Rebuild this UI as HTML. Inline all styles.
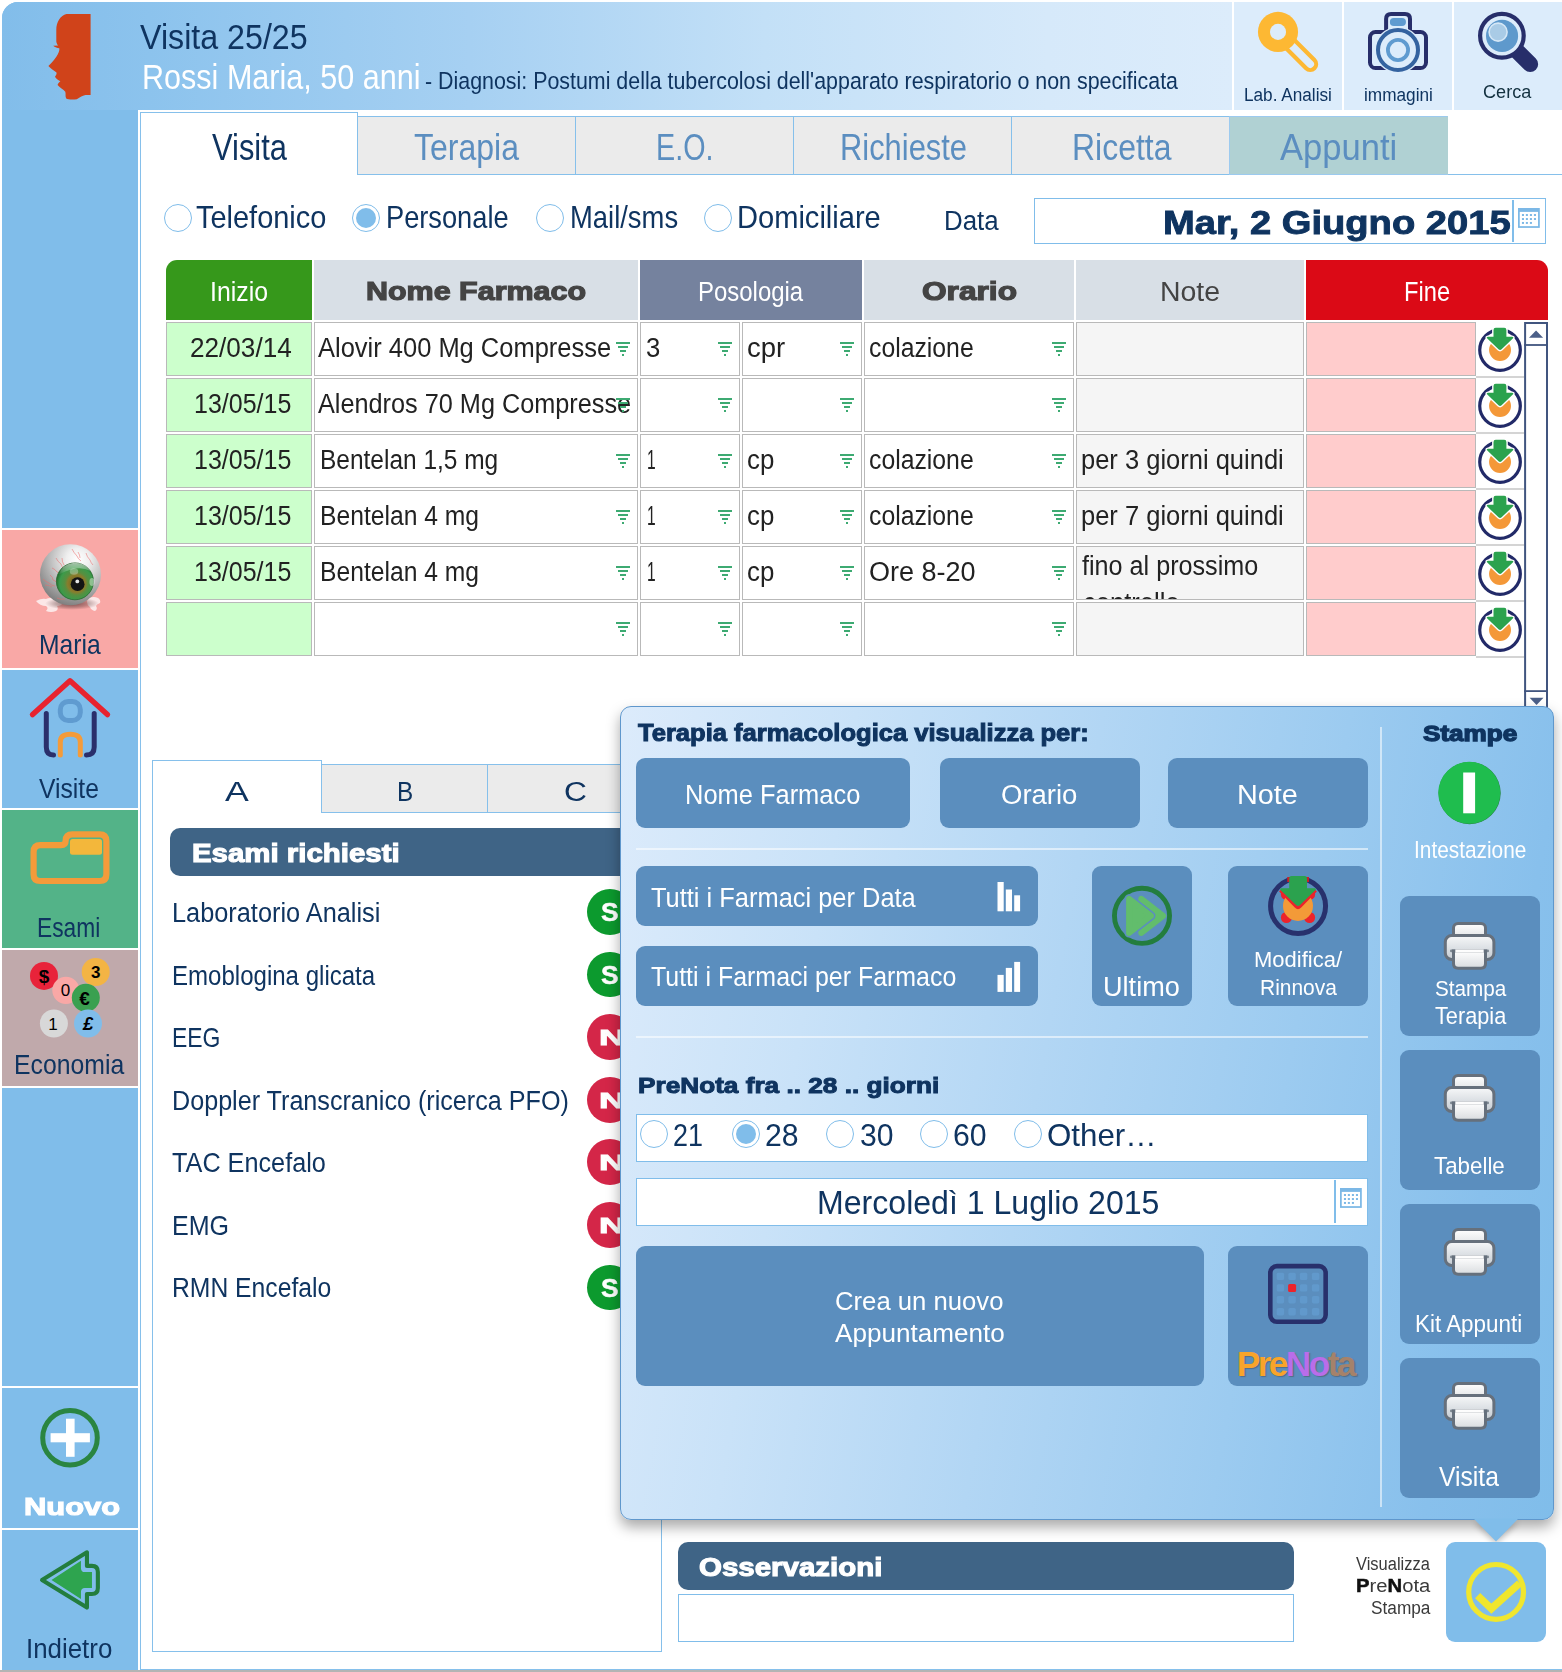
<!DOCTYPE html>
<html lang="it"><head><meta charset="utf-8"><title>Visita 25/25 - Rossi Maria</title>
<style>
html,body{margin:0;padding:0}
body{width:1562px;height:1672px;position:relative;overflow:hidden;background:#fff;font-family:"Liberation Sans",sans-serif}
.a{position:absolute;box-sizing:border-box}
.t{position:absolute;white-space:nowrap;line-height:1;transform-origin:0 0;font-family:"Liberation Sans",sans-serif}
svg{position:absolute;overflow:visible}
.cell{position:absolute;box-sizing:border-box;border:1px solid #b9b9b9;height:54px;background:#fff}
.ci{background:#ccffcc}
.cn{background:#f5f5f5}
.cf{background:#ffcccc}
.btn{position:absolute;box-sizing:border-box;background:#5b8ebe;border-radius:9px}
.tab{position:absolute;box-sizing:border-box;background:#ebebeb;border:1px solid #86c0eb}
.rad{position:absolute;box-sizing:border-box;width:28px;height:28px;border-radius:50%;border:1px solid #80bdea;background:#fff}
.rad.on::after{content:"";position:absolute;left:3px;top:3px;width:20px;height:20px;border-radius:50%;background:#80bdea}
.sep{position:absolute;background:#fff;left:2px;width:136px;height:2px}
.fld{position:absolute;box-sizing:border-box;background:#fff;border:1px solid #80bdea}

</style></head>
<body>
<div class="a" style="left:2px;top:2px;width:136px;height:1668px;background:#80bdea;border-top-left-radius:16px"></div>
<div class="a" style="left:2px;top:2px;width:1230px;height:108px;border-top-left-radius:16px;background:linear-gradient(90deg,#82bdea 0%,#8cc3ed 12%,#a6d0f2 38%,#c3e0f7 62%,#d6e9fa 85%,#dcecfb 100%)"></div>
<div class="a" style="left:1234px;top:2px;width:108px;height:108px;background:#dcecfb"></div>
<div class="a" style="left:1344px;top:2px;width:108px;height:108px;background:#dcecfb"></div>
<div class="a" style="left:1454px;top:2px;width:108px;height:108px;background:#dcecfb"></div>
<svg style="left:0;top:0" width="140" height="110" viewBox="0 0 140 110">
<path d="M90.6 14.1 L66.5 14.1 C60.5 15.5 56.3 22 56.3 30 L56.3 41.5 C56.5 43.5 57.5 44.8 58.2 45.6 L53.2 45.8 C54.8 47.3 57.5 48 59.3 48.3 C59.8 50.5 58.5 53.5 56.5 56.5 C54 60.3 51 63.5 48.4 65.9 C50.5 68.5 54 70.5 56.5 72.5 C57 74 55.8 75.5 55 76.8 C56 79.2 58.8 80.3 60.4 81.2 C59.2 82.3 57.8 83.6 57.6 85.1 C59.5 87.6 63.5 89.6 65.3 91.8 C66 94 65 96.5 66.2 98.4 C68 99.8 73.5 99.6 76.8 99.2 C79.5 97.8 82 95.6 85.5 95 L90.6 95 Z" fill="#d0431a"/>
</svg>
<span class="t" id="t0" style="left:140.17px;top:20.00px;font-size:34.74px;color:#0f3460;transform:scaleX(0.9269);">Visita 25/25</span>
<span class="t" id="t1" style="left:142.37px;top:59.00px;font-size:35.18px;color:#fff;transform:scaleX(0.8686);">Rossi Maria, 50 anni</span>
<span class="t" id="t2" style="left:425.32px;top:70.00px;font-size:23.55px;color:#0f3460;transform:scaleX(0.9082);">- Diagnosi: Postumi della tubercolosi dell'apparato respiratorio o non specificata</span>
<svg style="left:1232px;top:0" width="330" height="112" viewBox="1232 0 330 112">
<!-- key -->
<line x1="1278" y1="31.9" x2="1310.25" y2="64.15" stroke="#fdb833" stroke-width="15.9" stroke-linecap="round"/>
<line x1="1278" y1="31.9" x2="1310.25" y2="64.15" stroke="#dcecfb" stroke-width="7.6" stroke-linecap="round"/>
<circle cx="1278" cy="31.9" r="20.05" fill="#fdb833"/><circle cx="1278" cy="31.9" r="8.06" fill="#dcecfb"/>
<!-- camera -->
<rect x="1370" y="31.9" width="56" height="36.1" rx="5.6" fill="none" stroke="#272e6a" stroke-width="4"/>
<path d="M1386.1 33 L1386.1 18.9 Q1386.1 13.9 1391.1 13.9 L1405 13.9 Q1410 13.9 1410 18.9 L1410 33" fill="none" stroke="#272e6a" stroke-width="4"/>
<rect x="1389.85" y="18.1" width="16.1" height="7.9" rx="3.95" fill="#5f9bd0"/>
<circle cx="1398" cy="50" r="23.4" fill="#dcecfb"/>
<circle cx="1398" cy="50" r="20" fill="none" stroke="#3463a0" stroke-width="4"/>
<circle cx="1398" cy="50" r="10.1" fill="none" stroke="#5f9bd0" stroke-width="3.8"/>
<!-- magnifier -->
<line x1="1510" y1="44" x2="1530.2" y2="64.15" stroke="#272e6a" stroke-width="15.9" stroke-linecap="round"/>
<circle cx="1501.9" cy="35.75" r="21.8" fill="#dcecfb" stroke="#272e6a" stroke-width="4.2"/>
<circle cx="1502.05" cy="35.9" r="16.05" fill="#5e99cc"/>
<circle cx="1498.1" cy="32.1" r="9" fill="#a9cbe6" stroke="#d5e7f6" stroke-width="1.6"/>
</svg>
<span class="t" id="t3" style="left:1244.07px;top:85.00px;font-size:19.19px;color:#0f3460;transform:scaleX(0.8953);">Lab. Analisi</span>
<span class="t" id="t4" style="left:1364.47px;top:86.00px;font-size:18.75px;color:#0f3460;transform:scaleX(0.9178);">immagini</span>
<span class="t" id="t5" style="left:1482.71px;top:83.00px;font-size:18.75px;color:#12303f;transform:scaleX(0.9651);">Cerca</span>
<div class="a" style="left:2px;top:530px;width:136px;height:138px;background:#f9a8a6"></div>
<div class="a" style="left:2px;top:810px;width:136px;height:138px;background:#53b388"></div>
<div class="a" style="left:2px;top:950px;width:136px;height:136px;background:#c0a9ab"></div>
<div class="sep" style="top:528px"></div>
<div class="sep" style="top:668px"></div>
<div class="sep" style="top:808px"></div>
<div class="sep" style="top:948px"></div>
<div class="sep" style="top:1085.7px"></div>
<div class="sep" style="top:1386px"></div>
<div class="sep" style="top:1527.7px"></div>
<svg style="left:0;top:530px" width="140" height="140" viewBox="0 530 140 140">
<defs>
<radialGradient id="eb" cx="0.62" cy="0.27" r="0.85" fx="0.62" fy="0.25"><stop offset="0" stop-color="#ffffff"/><stop offset="0.22" stop-color="#efefef"/><stop offset="0.48" stop-color="#c6c6c6"/><stop offset="0.72" stop-color="#9c9c9c"/><stop offset="0.92" stop-color="#7a7a7a"/><stop offset="1" stop-color="#666"/></radialGradient>
<radialGradient id="ir" cx="0.54" cy="0.56" r="0.56"><stop offset="0" stop-color="#6b5a18"/><stop offset="0.42" stop-color="#8a7c2c"/><stop offset="0.56" stop-color="#578f40"/><stop offset="0.8" stop-color="#3c9a4a"/><stop offset="1" stop-color="#1f6a2b"/></radialGradient>
<linearGradient id="gl" x1="0" y1="0" x2="0" y2="1"><stop offset="0" stop-color="#ffffff" stop-opacity="0.6"/><stop offset="1" stop-color="#ffffff" stop-opacity="0"/></linearGradient>
<radialGradient id="sh" cx="0.5" cy="0.5" r="0.5"><stop offset="0" stop-color="#402828" stop-opacity="0.7"/><stop offset="0.6" stop-color="#503030" stop-opacity="0.35"/><stop offset="1" stop-color="#5a3a3a" stop-opacity="0"/></radialGradient>
<filter id="bl1" x="-20%" y="-20%" width="140%" height="140%"><feGaussianBlur stdDeviation="0.7"/></filter>
</defs>
<g filter="url(#bl1)" fill="#fdf3f3" opacity="0.85">
<path d="M36 601 q6 -3 10 -2 q4 -2 10 0 q5 1 7 4 q-2 3 -6 3 q2 3 -1 5 q-5 2 -10 0 q3 -3 0 -5 q-6 0 -10 -5z"/>
<path d="M89 598 q5 -2 9 0 q3 2 2 5 q-3 1 -4 3 q2 3 -1 5 q-4 -1 -5 -4 q-3 -2 -3 -5 q0 -3 2 -4z"/>
</g>
<ellipse cx="72" cy="603.5" rx="27" ry="6.5" fill="url(#sh)"/>
<circle cx="70.46" cy="574.7" r="30.5" fill="url(#eb)"/>
<g fill="none" stroke="#ea6a6a" stroke-width="0.6" opacity="0.9">
<path d="M56 558 q2 4 5 6 q1 3 3 5 M62 558 q0 4 2 7 M52 568 q3 1 5 4 q3 1 5 3 M50 575 q3 2 3 5 q3 2 6 2 M43 579 q3 3 6 4 q3 3 6 3 M45 585 q4 0 7 2 M72 549 q2 4 5 7 q1 3 4 5 M78 552 q2 3 2 6 M86 553 q1 4 4 7 M90 560 q1 3 3 5 M57 598 q4 2 8 1"/>
</g>
<ellipse cx="74.94" cy="581.35" rx="18.55" ry="18.45" fill="url(#ir)" stroke="#2a6a30" stroke-width="0.8"/>
<path d="M58.5 575 a18 18 0 0 1 32 -4 q-8 -4 -17 -2 q-9 2 -15 6z" fill="url(#gl)"/>
<circle cx="77.6" cy="584.2" r="6.9" fill="#141414"/>
<circle cx="77.3" cy="581.4" r="1.9" fill="#e6e6e6"/>
<ellipse cx="74" cy="571.5" rx="4.2" ry="3.2" fill="#fff" opacity="0.3"/>
<ellipse cx="92" cy="582" rx="2.6" ry="4" fill="#fff" opacity="0.4"/>
</svg>
<span class="t" id="t6" style="left:39.42px;top:631.00px;font-size:27.33px;color:#0f3460;transform:scaleX(0.9022);">Maria</span>
<svg style="left:0;top:670px" width="140" height="140" viewBox="0 670 140 140" fill="none" stroke-linecap="round" stroke-linejoin="round">
<path d="M46.3 713.5 L46.3 747 Q46.3 755 53.5 755" stroke="#2a2f6b" stroke-width="5"/>
<path d="M94.2 713.5 L94.2 747 Q94.2 755 86.5 755" stroke="#2a2f6b" stroke-width="5"/>
<rect x="60.3" y="701.5" width="20" height="19" rx="8" stroke="#5f9bd0" stroke-width="5"/>
<path d="M60.3 755 L60.3 742 Q60.3 734.3 70.3 734.3 Q80.3 734.3 80.3 742 L80.3 755" stroke="#f49b3a" stroke-width="5"/>
<path d="M32.6 714.6 L70 680.8 L107.4 714.6" stroke="#e8232f" stroke-width="5.4"/>
</svg>
<span class="t" id="t7" style="left:39.42px;top:775.00px;font-size:27.33px;color:#0f3460;transform:scaleX(0.9022);">Visite</span>
<svg style="left:0;top:810px" width="140" height="140" viewBox="0 810 140 140" fill="none">
<path d="M33.6 852 Q33.6 845.2 40.4 845.2 L61 845.2 Q65.6 845.2 65.6 841 Q65.6 834.4 72.4 834.4 L99.6 834.4 Q106.4 834.4 106.4 841.2 L106.4 874.2 Q106.4 881 99.6 881 L40.4 881 Q33.6 881 33.6 874.2 Z" stroke="#f49b3a" stroke-width="6.2" stroke-linejoin="round"/>
<rect x="70" y="839.1" width="32" height="15.6" rx="2.5" fill="#f3b73b"/>
</svg>
<span class="t" id="t8" style="left:36.83px;top:914.00px;font-size:27.33px;color:#0f3460;transform:scaleX(0.8327);">Esami</span>
<svg style="left:0;top:950px" width="140" height="136" viewBox="0 950 140 136" font-family="Liberation Sans, sans-serif" font-weight="bold" text-anchor="middle">
<circle cx="44" cy="975.9" r="14" fill="#e8233a"/>
<circle cx="95.7" cy="972" r="14" fill="#f3b444"/>
<circle cx="65.9" cy="990.3" r="13.6" fill="#f9a8a6"/>
<circle cx="85.8" cy="997.8" r="14" fill="#3aa050"/>
<circle cx="53.9" cy="1023.5" r="14" fill="#d8d8d8"/>
<circle cx="88" cy="1023.5" r="14" fill="#80bdea"/>
<text x="44" y="982.5" font-size="19" fill="#000">$</text>
<text x="95.7" y="978" font-size="17" fill="#000">3</text>
<text x="65.5" y="996.3" font-size="17" fill="#000" font-weight="normal">0</text>
<text x="84.5" y="1004.5" font-size="19" fill="#000">&#8364;</text>
<text x="53" y="1029.5" font-size="17" fill="#000" font-weight="normal">1</text>
<text x="88" y="1030" font-size="18" fill="#000" font-style="italic">&#163;</text>
</svg>
<span class="t" id="t9" style="left:14.31px;top:1051.00px;font-size:27.33px;color:#0f3460;transform:scaleX(0.9065);">Economia</span>
<svg style="left:0;top:1388px" width="140" height="140" viewBox="0 1388 140 140">
<circle cx="70" cy="1437.7" r="27.3" fill="none" stroke="#2a8541" stroke-width="5"/>
<rect x="50.6" y="1433.2" width="39.3" height="9.1" fill="#fff"/>
<rect x="66" y="1418.7" width="8.6" height="38.1" fill="#fff"/>
</svg>
<span class="t" id="t10" style="left:23.50px;top:1495.00px;font-size:24.56px;color:#fff;font-weight:bold;-webkit-text-stroke:1.10px #fff;transform:scaleX(1.2584);">Nuovo</span>
<svg style="left:0;top:1530px" width="140" height="140" viewBox="0 1530 140 140" stroke-linejoin="round">
<path d="M42.04 1579.95 L86.95 1552.3 L86.95 1565.9 L91.9 1565.9 Q97.86 1565.9 97.86 1571.9 L97.86 1588 Q97.86 1594 91.9 1594 L86.95 1594 L86.95 1607.6 Z" fill="none" stroke="#237d3e" stroke-width="4.1"/>
<path d="M51.5 1579.95 L80.96 1560.7 L80.96 1568.4 Q81.2 1572 84.8 1572 L91.97 1572 L91.97 1587.9 L84.8 1587.9 Q81.2 1587.9 80.96 1591.5 L80.96 1598.9 Z" fill="#2ea44f"/>
</svg>
<span class="t" id="t11" style="left:26.05px;top:1636.00px;font-size:26.74px;color:#0f3460;transform:scaleX(0.9679);">Indietro</span>
<div class="a" style="left:140px;top:112px;width:1px;height:1558px;background:#86c0eb"></div>
<div class="a" style="left:140px;top:1669px;width:1422px;height:1px;background:#86c0eb"></div>
<div class="a" style="left:0;top:1670px;width:1562px;height:2px;background:#b4b4b4"></div>
<div class="a" style="left:140px;top:112px;width:218px;height:1px;background:#86c0eb"></div>
<div class="a" style="left:357px;top:112px;width:1px;height:62px;background:#86c0eb"></div>
<div class="a" style="left:358px;top:174px;width:1204px;height:1px;background:#86c0eb"></div>
<div class="tab" style="left:357px;top:116px;width:219px;height:59px"></div>
<div class="tab" style="left:575px;top:116px;width:219px;height:59px"></div>
<div class="tab" style="left:793px;top:116px;width:219px;height:59px"></div>
<div class="tab" style="left:1011px;top:116px;width:219px;height:59px"></div>
<div class="tab" style="left:1229px;top:116px;width:219px;height:59px;background:#b0d1d3;border-color:#9ccaef #b0d1d3 #9ccaef #9ccaef"></div>
<span class="t" id="t12" style="left:211.75px;top:130.00px;font-size:36.34px;color:#0f3460;transform:scaleX(0.8494);">Visita</span>
<span class="t" id="t13" style="left:413.98px;top:130.00px;font-size:36.34px;color:#5b8ec0;transform:scaleX(0.8807);">Terapia</span>
<span class="t" id="t14" style="left:656.28px;top:130.00px;font-size:36.34px;color:#5b8ec0;transform:scaleX(0.7903);">E.O.</span>
<span class="t" id="t15" style="left:839.75px;top:130.00px;font-size:36.34px;color:#5b8ec0;transform:scaleX(0.8500);">Richieste</span>
<span class="t" id="t16" style="left:1071.58px;top:130.00px;font-size:36.34px;color:#5b8ec0;transform:scaleX(0.8793);">Ricetta</span>
<span class="t" id="t17" style="left:1279.83px;top:130.00px;font-size:36.34px;color:#5b8ec0;transform:scaleX(0.9516);">Appunti</span>
<div class="rad" style="left:164.0px;top:204px"></div>
<div class="rad on" style="left:351.7px;top:204px"></div>
<div class="rad" style="left:535.8px;top:204px"></div>
<div class="rad" style="left:703.9px;top:204px"></div>
<span class="t" id="t18" style="left:196.16px;top:202.00px;font-size:31.69px;color:#0f3460;transform:scaleX(0.9137);">Telefonico</span>
<span class="t" id="t19" style="left:385.57px;top:202.00px;font-size:31.69px;color:#0f3460;transform:scaleX(0.8590);">Personale</span>
<span class="t" id="t20" style="left:569.56px;top:202.00px;font-size:31.69px;color:#0f3460;transform:scaleX(0.8647);">Mail/sms</span>
<span class="t" id="t21" style="left:737.46px;top:202.00px;font-size:31.69px;color:#0f3460;transform:scaleX(0.9175);">Domiciliare</span>
<span class="t" id="t22" style="left:943.85px;top:207.00px;font-size:27.62px;color:#0f3460;transform:scaleX(0.9361);">Data</span>
<div class="fld" style="left:1034px;top:198px;width:512px;height:46px"></div>
<span class="t" id="t23" style="left:1163.26px;top:206.00px;font-size:33.58px;color:#0f3460;font-weight:bold;-webkit-text-stroke:0.90px #0f3460;transform:scaleX(1.1360);">Mar, 2 Giugno 2015</span>
<div class="a" style="left:1512px;top:200px;width:2px;height:42px;background:#80bdea"></div>
<svg style="left:1518.1px;top:208px" width="21.8" height="19.9" viewBox="0 0 21.8 19.9">
<rect x="0" y="0" width="21.8" height="19.9" fill="#7cb8e6"/>
<rect x="1.75" y="3.9" width="18.3" height="14.25" fill="#fff"/>
<g fill="#7cb8e6"><rect x="3.94" y="6.04" width="2.05" height="1.95"/><rect x="7.86" y="6.04" width="2.05" height="1.95"/><rect x="11.9" y="6.04" width="2.05" height="1.95"/><rect x="15.93" y="6.04" width="2.05" height="1.95"/>
<rect x="3.94" y="10.05" width="2.05" height="1.95"/><rect x="7.86" y="10.05" width="2.05" height="1.95"/><rect x="11.9" y="10.05" width="2.05" height="1.95"/><rect x="15.93" y="10.05" width="2.05" height="1.95"/>
<rect x="3.94" y="13.97" width="2.05" height="1.95"/><rect x="7.86" y="13.97" width="2.05" height="1.95"/><rect x="11.9" y="13.97" width="2.05" height="1.95"/></g>
</svg>
<div class="a" style="left:166px;top:260px;width:146px;height:60px;background:#36981b;border-top-left-radius:11px"></div>
<div class="a" style="left:314px;top:260px;width:324px;height:60px;background:#d8dfe6;"></div>
<div class="a" style="left:640px;top:260px;width:222px;height:60px;background:#75829e;"></div>
<div class="a" style="left:864px;top:260px;width:210px;height:60px;background:#d8dfe6;"></div>
<div class="a" style="left:1076px;top:260px;width:228px;height:60px;background:#d8dfe6;"></div>
<div class="a" style="left:1306px;top:260px;width:242px;height:60px;background:#db0a16;border-top-right-radius:11px"></div>
<span class="t" id="t24" style="left:209.51px;top:277.00px;font-size:28.34px;color:#fff;transform:scaleX(0.8766);">Inizio</span>
<span class="t" id="t25" style="left:365.97px;top:279.00px;font-size:25.29px;color:#444;font-weight:bold;-webkit-text-stroke:1.20px #444;transform:scaleX(1.2048);">Nome Farmaco</span>
<span class="t" id="t26" style="left:698.36px;top:277.00px;font-size:28.34px;color:#fff;transform:scaleX(0.8453);">Posologia</span>
<span class="t" id="t27" style="left:921.60px;top:279.00px;font-size:25.44px;color:#444;font-weight:bold;-webkit-text-stroke:1.20px #444;transform:scaleX(1.2443);">Orario</span>
<span class="t" id="t28" style="left:1159.89px;top:278.00px;font-size:27.62px;color:#444;transform:scaleX(1.0306);">Note</span>
<span class="t" id="t29" style="left:1404.08px;top:277.00px;font-size:28.34px;color:#fff;transform:scaleX(0.8355);">Fine</span>
<div class="cell ci" style="left:166px;top:322px;width:146px"></div>
<div class="cell" style="left:314px;top:322px;width:324px"></div>
<div class="cell" style="left:640px;top:322px;width:100px"></div>
<div class="cell" style="left:742px;top:322px;width:120px"></div>
<div class="cell" style="left:864px;top:322px;width:210px"></div>
<div class="cell cn" style="left:1076px;top:322px;width:228px"></div>
<div class="cell cf" style="left:1306px;top:322px;width:170px"></div>
<div class="a" style="left:1476px;top:376px;width:48px;height:2px;background:#d4d4d4"></div>
<span class="t" id="t30" style="left:189.63px;top:334.00px;font-size:27.18px;color:#222;transform:scaleX(0.9618);">22/03/14</span>
<span class="t" id="t31" style="left:318.27px;top:334.00px;font-size:27.18px;color:#222;transform:scaleX(0.9378);">Alovir 400 Mg Compresse</span>
<span class="t" id="t32" style="left:645.86px;top:334.00px;font-size:27.18px;color:#222;transform:scaleX(0.9441);">3</span>
<span class="t" id="t33" style="left:746.85px;top:334.00px;font-size:27.18px;color:#222;transform:scaleX(1.0119);">cpr</span>
<span class="t" id="t34" style="left:868.71px;top:334.00px;font-size:27.18px;color:#222;transform:scaleX(0.9117);">colazione</span>
<svg style="left:616px;top:342px" width="14" height="14" viewBox="0 0 14 14"><g fill="#3daa72"><rect x="0" y="0" width="14" height="2"/><rect x="2" y="4" width="10" height="2"/><rect x="4" y="8" width="6" height="2"/><rect x="6" y="12" width="2" height="2"/></g></svg>
<svg style="left:718px;top:342px" width="14" height="14" viewBox="0 0 14 14"><g fill="#3daa72"><rect x="0" y="0" width="14" height="2"/><rect x="2" y="4" width="10" height="2"/><rect x="4" y="8" width="6" height="2"/><rect x="6" y="12" width="2" height="2"/></g></svg>
<svg style="left:840px;top:342px" width="14" height="14" viewBox="0 0 14 14"><g fill="#3daa72"><rect x="0" y="0" width="14" height="2"/><rect x="2" y="4" width="10" height="2"/><rect x="4" y="8" width="6" height="2"/><rect x="6" y="12" width="2" height="2"/></g></svg>
<svg style="left:1052px;top:342px" width="14" height="14" viewBox="0 0 14 14"><g fill="#3daa72"><rect x="0" y="0" width="14" height="2"/><rect x="2" y="4" width="10" height="2"/><rect x="4" y="8" width="6" height="2"/><rect x="6" y="12" width="2" height="2"/></g></svg>
<svg style="left:1476px;top:322px" width="48" height="54" viewBox="1476 322 48 54">
<circle cx="1500.03" cy="350.1" r="20.3" fill="none" stroke="#222a68" stroke-width="3.2"/>
<circle cx="1500.03" cy="350" r="10.95" fill="#f49838"/>
<path d="M1493.5 330 Q1493.5 327.8 1495.7 327.8 L1504.2 327.8 Q1506.4 327.8 1506.4 330 L1506.4 336.8 L1512 336.8 Q1514.2 337 1512.8 338.6 L1501.6 349.3 Q1500.03 350.7 1498.5 349.3 L1487.3 338.6 Q1485.9 337 1488.1 336.8 L1493.5 336.8 Z" fill="#2ba24e" stroke="#fff" stroke-width="2.8" stroke-linejoin="round" paint-order="stroke"/>
</svg>
<div class="cell ci" style="left:166px;top:378px;width:146px"></div>
<div class="cell" style="left:314px;top:378px;width:324px"></div>
<div class="cell" style="left:640px;top:378px;width:100px"></div>
<div class="cell" style="left:742px;top:378px;width:120px"></div>
<div class="cell" style="left:864px;top:378px;width:210px"></div>
<div class="cell cn" style="left:1076px;top:378px;width:228px"></div>
<div class="cell cf" style="left:1306px;top:378px;width:170px"></div>
<div class="a" style="left:1476px;top:432px;width:48px;height:2px;background:#d4d4d4"></div>
<span class="t" id="t35" style="left:193.50px;top:390.00px;font-size:27.18px;color:#222;transform:scaleX(0.9198);">13/05/15</span>
<span class="t" id="t36" style="left:318.28px;top:390.00px;font-size:27.18px;color:#222;transform:scaleX(0.9297);">Alendros 70 Mg Compresse</span>
<svg style="left:616px;top:398px" width="14" height="14" viewBox="0 0 14 14"><g fill="#3daa72"><rect x="0" y="0" width="14" height="2"/><rect x="2" y="4" width="10" height="2"/><rect x="4" y="8" width="6" height="2"/><rect x="6" y="12" width="2" height="2"/></g></svg>
<svg style="left:718px;top:398px" width="14" height="14" viewBox="0 0 14 14"><g fill="#3daa72"><rect x="0" y="0" width="14" height="2"/><rect x="2" y="4" width="10" height="2"/><rect x="4" y="8" width="6" height="2"/><rect x="6" y="12" width="2" height="2"/></g></svg>
<svg style="left:840px;top:398px" width="14" height="14" viewBox="0 0 14 14"><g fill="#3daa72"><rect x="0" y="0" width="14" height="2"/><rect x="2" y="4" width="10" height="2"/><rect x="4" y="8" width="6" height="2"/><rect x="6" y="12" width="2" height="2"/></g></svg>
<svg style="left:1052px;top:398px" width="14" height="14" viewBox="0 0 14 14"><g fill="#3daa72"><rect x="0" y="0" width="14" height="2"/><rect x="2" y="4" width="10" height="2"/><rect x="4" y="8" width="6" height="2"/><rect x="6" y="12" width="2" height="2"/></g></svg>
<svg style="left:1476px;top:378px" width="48" height="54" viewBox="1476 322 48 54">
<circle cx="1500.03" cy="350.1" r="20.3" fill="none" stroke="#222a68" stroke-width="3.2"/>
<circle cx="1500.03" cy="350" r="10.95" fill="#f49838"/>
<path d="M1493.5 330 Q1493.5 327.8 1495.7 327.8 L1504.2 327.8 Q1506.4 327.8 1506.4 330 L1506.4 336.8 L1512 336.8 Q1514.2 337 1512.8 338.6 L1501.6 349.3 Q1500.03 350.7 1498.5 349.3 L1487.3 338.6 Q1485.9 337 1488.1 336.8 L1493.5 336.8 Z" fill="#2ba24e" stroke="#fff" stroke-width="2.8" stroke-linejoin="round" paint-order="stroke"/>
</svg>
<div class="cell ci" style="left:166px;top:434px;width:146px"></div>
<div class="cell" style="left:314px;top:434px;width:324px"></div>
<div class="cell" style="left:640px;top:434px;width:100px"></div>
<div class="cell" style="left:742px;top:434px;width:120px"></div>
<div class="cell" style="left:864px;top:434px;width:210px"></div>
<div class="cell cn" style="left:1076px;top:434px;width:228px"></div>
<div class="cell cf" style="left:1306px;top:434px;width:170px"></div>
<div class="a" style="left:1476px;top:488px;width:48px;height:2px;background:#d4d4d4"></div>
<span class="t" id="t37" style="left:193.50px;top:446.00px;font-size:27.18px;color:#222;transform:scaleX(0.9198);">13/05/15</span>
<span class="t" id="t38" style="left:319.53px;top:446.00px;font-size:27.18px;color:#222;transform:scaleX(0.9007);">Bentelan 1,5 mg</span>
<span class="t" id="t39" style="left:647.27px;top:446.00px;font-size:27.18px;color:#222;transform:scaleX(0.5732);">1</span>
<span class="t" id="t40" style="left:746.95px;top:446.00px;font-size:27.18px;color:#222;transform:scaleX(0.9512);">cp</span>
<span class="t" id="t41" style="left:868.71px;top:446.00px;font-size:27.18px;color:#222;transform:scaleX(0.9117);">colazione</span>
<span class="t" id="t42" style="left:1081.27px;top:446.00px;font-size:27.18px;color:#222;transform:scaleX(0.9386);">per 3 giorni quindi</span>
<svg style="left:616px;top:454px" width="14" height="14" viewBox="0 0 14 14"><g fill="#3daa72"><rect x="0" y="0" width="14" height="2"/><rect x="2" y="4" width="10" height="2"/><rect x="4" y="8" width="6" height="2"/><rect x="6" y="12" width="2" height="2"/></g></svg>
<svg style="left:718px;top:454px" width="14" height="14" viewBox="0 0 14 14"><g fill="#3daa72"><rect x="0" y="0" width="14" height="2"/><rect x="2" y="4" width="10" height="2"/><rect x="4" y="8" width="6" height="2"/><rect x="6" y="12" width="2" height="2"/></g></svg>
<svg style="left:840px;top:454px" width="14" height="14" viewBox="0 0 14 14"><g fill="#3daa72"><rect x="0" y="0" width="14" height="2"/><rect x="2" y="4" width="10" height="2"/><rect x="4" y="8" width="6" height="2"/><rect x="6" y="12" width="2" height="2"/></g></svg>
<svg style="left:1052px;top:454px" width="14" height="14" viewBox="0 0 14 14"><g fill="#3daa72"><rect x="0" y="0" width="14" height="2"/><rect x="2" y="4" width="10" height="2"/><rect x="4" y="8" width="6" height="2"/><rect x="6" y="12" width="2" height="2"/></g></svg>
<svg style="left:1476px;top:434px" width="48" height="54" viewBox="1476 322 48 54">
<circle cx="1500.03" cy="350.1" r="20.3" fill="none" stroke="#222a68" stroke-width="3.2"/>
<circle cx="1500.03" cy="350" r="10.95" fill="#f49838"/>
<path d="M1493.5 330 Q1493.5 327.8 1495.7 327.8 L1504.2 327.8 Q1506.4 327.8 1506.4 330 L1506.4 336.8 L1512 336.8 Q1514.2 337 1512.8 338.6 L1501.6 349.3 Q1500.03 350.7 1498.5 349.3 L1487.3 338.6 Q1485.9 337 1488.1 336.8 L1493.5 336.8 Z" fill="#2ba24e" stroke="#fff" stroke-width="2.8" stroke-linejoin="round" paint-order="stroke"/>
</svg>
<div class="cell ci" style="left:166px;top:490px;width:146px"></div>
<div class="cell" style="left:314px;top:490px;width:324px"></div>
<div class="cell" style="left:640px;top:490px;width:100px"></div>
<div class="cell" style="left:742px;top:490px;width:120px"></div>
<div class="cell" style="left:864px;top:490px;width:210px"></div>
<div class="cell cn" style="left:1076px;top:490px;width:228px"></div>
<div class="cell cf" style="left:1306px;top:490px;width:170px"></div>
<div class="a" style="left:1476px;top:544px;width:48px;height:2px;background:#d4d4d4"></div>
<span class="t" id="t43" style="left:193.50px;top:502.00px;font-size:27.18px;color:#222;transform:scaleX(0.9198);">13/05/15</span>
<span class="t" id="t44" style="left:319.52px;top:502.00px;font-size:27.18px;color:#222;transform:scaleX(0.9077);">Bentelan 4 mg</span>
<span class="t" id="t45" style="left:647.27px;top:502.00px;font-size:27.18px;color:#222;transform:scaleX(0.5732);">1</span>
<span class="t" id="t46" style="left:746.95px;top:502.00px;font-size:27.18px;color:#222;transform:scaleX(0.9512);">cp</span>
<span class="t" id="t47" style="left:868.71px;top:502.00px;font-size:27.18px;color:#222;transform:scaleX(0.9117);">colazione</span>
<span class="t" id="t48" style="left:1081.27px;top:502.00px;font-size:27.18px;color:#222;transform:scaleX(0.9386);">per 7 giorni quindi</span>
<svg style="left:616px;top:510px" width="14" height="14" viewBox="0 0 14 14"><g fill="#3daa72"><rect x="0" y="0" width="14" height="2"/><rect x="2" y="4" width="10" height="2"/><rect x="4" y="8" width="6" height="2"/><rect x="6" y="12" width="2" height="2"/></g></svg>
<svg style="left:718px;top:510px" width="14" height="14" viewBox="0 0 14 14"><g fill="#3daa72"><rect x="0" y="0" width="14" height="2"/><rect x="2" y="4" width="10" height="2"/><rect x="4" y="8" width="6" height="2"/><rect x="6" y="12" width="2" height="2"/></g></svg>
<svg style="left:840px;top:510px" width="14" height="14" viewBox="0 0 14 14"><g fill="#3daa72"><rect x="0" y="0" width="14" height="2"/><rect x="2" y="4" width="10" height="2"/><rect x="4" y="8" width="6" height="2"/><rect x="6" y="12" width="2" height="2"/></g></svg>
<svg style="left:1052px;top:510px" width="14" height="14" viewBox="0 0 14 14"><g fill="#3daa72"><rect x="0" y="0" width="14" height="2"/><rect x="2" y="4" width="10" height="2"/><rect x="4" y="8" width="6" height="2"/><rect x="6" y="12" width="2" height="2"/></g></svg>
<svg style="left:1476px;top:490px" width="48" height="54" viewBox="1476 322 48 54">
<circle cx="1500.03" cy="350.1" r="20.3" fill="none" stroke="#222a68" stroke-width="3.2"/>
<circle cx="1500.03" cy="350" r="10.95" fill="#f49838"/>
<path d="M1493.5 330 Q1493.5 327.8 1495.7 327.8 L1504.2 327.8 Q1506.4 327.8 1506.4 330 L1506.4 336.8 L1512 336.8 Q1514.2 337 1512.8 338.6 L1501.6 349.3 Q1500.03 350.7 1498.5 349.3 L1487.3 338.6 Q1485.9 337 1488.1 336.8 L1493.5 336.8 Z" fill="#2ba24e" stroke="#fff" stroke-width="2.8" stroke-linejoin="round" paint-order="stroke"/>
</svg>
<div class="cell ci" style="left:166px;top:546px;width:146px"></div>
<div class="cell" style="left:314px;top:546px;width:324px"></div>
<div class="cell" style="left:640px;top:546px;width:100px"></div>
<div class="cell" style="left:742px;top:546px;width:120px"></div>
<div class="cell" style="left:864px;top:546px;width:210px"></div>
<div class="cell cn" style="left:1076px;top:546px;width:228px"></div>
<div class="cell cf" style="left:1306px;top:546px;width:170px"></div>
<div class="a" style="left:1476px;top:600px;width:48px;height:2px;background:#d4d4d4"></div>
<span class="t" id="t49" style="left:193.50px;top:558.00px;font-size:27.18px;color:#222;transform:scaleX(0.9198);">13/05/15</span>
<span class="t" id="t50" style="left:319.52px;top:558.00px;font-size:27.18px;color:#222;transform:scaleX(0.9077);">Bentelan 4 mg</span>
<span class="t" id="t51" style="left:647.27px;top:558.00px;font-size:27.18px;color:#222;transform:scaleX(0.5732);">1</span>
<span class="t" id="t52" style="left:746.95px;top:558.00px;font-size:27.18px;color:#222;transform:scaleX(0.9512);">cp</span>
<span class="t" id="t53" style="left:868.58px;top:558.00px;font-size:27.18px;color:#222;transform:scaleX(0.9945);">Ore 8-20</span>
<div class="a" style="left:1077px;top:547px;width:226px;height:52px;overflow:hidden">
<span class="t" id="t54" style="left:5.49px;top:5.00px;font-size:27.18px;color:#222;transform:scaleX(0.9260);">fino al prossimo</span>
<span class="t" id="t55" style="left:5.97px;top:42.00px;font-size:27.18px;color:#222;transform:scaleX(0.9401);">controllo</span>
</div>
<svg style="left:616px;top:566px" width="14" height="14" viewBox="0 0 14 14"><g fill="#3daa72"><rect x="0" y="0" width="14" height="2"/><rect x="2" y="4" width="10" height="2"/><rect x="4" y="8" width="6" height="2"/><rect x="6" y="12" width="2" height="2"/></g></svg>
<svg style="left:718px;top:566px" width="14" height="14" viewBox="0 0 14 14"><g fill="#3daa72"><rect x="0" y="0" width="14" height="2"/><rect x="2" y="4" width="10" height="2"/><rect x="4" y="8" width="6" height="2"/><rect x="6" y="12" width="2" height="2"/></g></svg>
<svg style="left:840px;top:566px" width="14" height="14" viewBox="0 0 14 14"><g fill="#3daa72"><rect x="0" y="0" width="14" height="2"/><rect x="2" y="4" width="10" height="2"/><rect x="4" y="8" width="6" height="2"/><rect x="6" y="12" width="2" height="2"/></g></svg>
<svg style="left:1052px;top:566px" width="14" height="14" viewBox="0 0 14 14"><g fill="#3daa72"><rect x="0" y="0" width="14" height="2"/><rect x="2" y="4" width="10" height="2"/><rect x="4" y="8" width="6" height="2"/><rect x="6" y="12" width="2" height="2"/></g></svg>
<svg style="left:1476px;top:546px" width="48" height="54" viewBox="1476 322 48 54">
<circle cx="1500.03" cy="350.1" r="20.3" fill="none" stroke="#222a68" stroke-width="3.2"/>
<circle cx="1500.03" cy="350" r="10.95" fill="#f49838"/>
<path d="M1493.5 330 Q1493.5 327.8 1495.7 327.8 L1504.2 327.8 Q1506.4 327.8 1506.4 330 L1506.4 336.8 L1512 336.8 Q1514.2 337 1512.8 338.6 L1501.6 349.3 Q1500.03 350.7 1498.5 349.3 L1487.3 338.6 Q1485.9 337 1488.1 336.8 L1493.5 336.8 Z" fill="#2ba24e" stroke="#fff" stroke-width="2.8" stroke-linejoin="round" paint-order="stroke"/>
</svg>
<div class="cell ci" style="left:166px;top:602px;width:146px"></div>
<div class="cell" style="left:314px;top:602px;width:324px"></div>
<div class="cell" style="left:640px;top:602px;width:100px"></div>
<div class="cell" style="left:742px;top:602px;width:120px"></div>
<div class="cell" style="left:864px;top:602px;width:210px"></div>
<div class="cell cn" style="left:1076px;top:602px;width:228px"></div>
<div class="cell cf" style="left:1306px;top:602px;width:170px"></div>
<div class="a" style="left:1476px;top:656px;width:48px;height:2px;background:#d4d4d4"></div>
<svg style="left:616px;top:622px" width="14" height="14" viewBox="0 0 14 14"><g fill="#3daa72"><rect x="0" y="0" width="14" height="2"/><rect x="2" y="4" width="10" height="2"/><rect x="4" y="8" width="6" height="2"/><rect x="6" y="12" width="2" height="2"/></g></svg>
<svg style="left:718px;top:622px" width="14" height="14" viewBox="0 0 14 14"><g fill="#3daa72"><rect x="0" y="0" width="14" height="2"/><rect x="2" y="4" width="10" height="2"/><rect x="4" y="8" width="6" height="2"/><rect x="6" y="12" width="2" height="2"/></g></svg>
<svg style="left:840px;top:622px" width="14" height="14" viewBox="0 0 14 14"><g fill="#3daa72"><rect x="0" y="0" width="14" height="2"/><rect x="2" y="4" width="10" height="2"/><rect x="4" y="8" width="6" height="2"/><rect x="6" y="12" width="2" height="2"/></g></svg>
<svg style="left:1052px;top:622px" width="14" height="14" viewBox="0 0 14 14"><g fill="#3daa72"><rect x="0" y="0" width="14" height="2"/><rect x="2" y="4" width="10" height="2"/><rect x="4" y="8" width="6" height="2"/><rect x="6" y="12" width="2" height="2"/></g></svg>
<svg style="left:1476px;top:602px" width="48" height="54" viewBox="1476 322 48 54">
<circle cx="1500.03" cy="350.1" r="20.3" fill="none" stroke="#222a68" stroke-width="3.2"/>
<circle cx="1500.03" cy="350" r="10.95" fill="#f49838"/>
<path d="M1493.5 330 Q1493.5 327.8 1495.7 327.8 L1504.2 327.8 Q1506.4 327.8 1506.4 330 L1506.4 336.8 L1512 336.8 Q1514.2 337 1512.8 338.6 L1501.6 349.3 Q1500.03 350.7 1498.5 349.3 L1487.3 338.6 Q1485.9 337 1488.1 336.8 L1493.5 336.8 Z" fill="#2ba24e" stroke="#fff" stroke-width="2.8" stroke-linejoin="round" paint-order="stroke"/>
</svg>
<svg style="left:1524px;top:322px" width="25" height="386" viewBox="1524 322 25 386">
<rect x="1525.1" y="323" width="21.9" height="385" fill="#fff" stroke="#41557f" stroke-width="2"/>
<rect x="1524.1" y="344.1" width="23.9" height="1.8" fill="#41557f"/>
<rect x="1524.1" y="690.2" width="23.9" height="1.8" fill="#41557f"/>
<path d="M1529 337.8 L1536.05 330.5 L1543.1 337.8 Z" fill="#4b5f88"/>
<path d="M1529.6 697.8 L1536.55 704.9 L1543.5 697.8 Z" fill="#4b5f88"/>
</svg>
<div class="a" style="left:152px;top:760px;width:1px;height:892px;background:#86c0eb"></div>
<div class="a" style="left:152px;top:1651px;width:510px;height:1px;background:#86c0eb"></div>
<div class="a" style="left:661px;top:812px;width:1px;height:840px;background:#86c0eb"></div>
<div class="a" style="left:152px;top:760px;width:170px;height:1px;background:#86c0eb"></div>
<div class="a" style="left:321px;top:760px;width:1px;height:52px;background:#86c0eb"></div>
<div class="tab" style="left:321px;top:764px;width:168px;height:49px"></div>
<div class="tab" style="left:487px;top:764px;width:168px;height:49px"></div>
<div class="a" style="left:654px;top:812px;width:8px;height:1px;background:#86c0eb"></div>
<span class="t" id="t56" style="left:225.26px;top:778.00px;font-size:27.18px;color:#0f3460;transform:scaleX(1.3120);">A</span>
<span class="t" id="t57" style="left:397.44px;top:778.00px;font-size:27.18px;color:#0f3460;transform:scaleX(0.8948);">B</span>
<span class="t" id="t58" style="left:564.00px;top:778.00px;font-size:27.18px;color:#0f3460;transform:scaleX(1.1672);">C</span>
<div class="a" style="left:170px;top:828px;width:480px;height:48px;background:#3f6486;border-radius:10px"></div>
<span class="t" id="t59" style="left:191.98px;top:841.00px;font-size:25.29px;color:#fff;font-weight:bold;-webkit-text-stroke:1.10px #fff;transform:scaleX(1.1634);">Esami richiesti</span>
<span class="t" id="t60" style="left:171.68px;top:898.00px;font-size:28.34px;color:#0f3460;transform:scaleX(0.8939);">Laboratorio Analisi</span>
<div class="a" style="left:586.9px;top:889.0px;width:45.8px;height:45.8px;border-radius:50%;background:#0c9a2e"></div>
<span class="t" id="t61" style="left:600.57px;top:899.00px;font-size:26.45px;color:#fff;font-weight:bold;-webkit-text-stroke:0.50px #fff;transform:scaleX(0.9954);">S</span>
<span class="t" id="t62" style="left:171.76px;top:961.00px;font-size:28.34px;color:#0f3460;transform:scaleX(0.8488);">Emoblogina glicata</span>
<div class="a" style="left:586.9px;top:951.6px;width:45.8px;height:45.8px;border-radius:50%;background:#0c9a2e"></div>
<span class="t" id="t63" style="left:600.57px;top:962.00px;font-size:26.45px;color:#fff;font-weight:bold;-webkit-text-stroke:0.50px #fff;transform:scaleX(0.9954);">S</span>
<span class="t" id="t64" style="left:171.82px;top:1023.00px;font-size:28.34px;color:#0f3460;transform:scaleX(0.8099);">EEG</span>
<div class="a" style="left:586.9px;top:1014.2px;width:45.8px;height:45.8px;border-radius:50%;background:#d42648"></div>
<span class="t" id="t65" style="left:599.36px;top:1028.00px;font-size:21.51px;color:#fff;font-weight:bold;-webkit-text-stroke:0.90px #fff;transform:scaleX(1.6989);">N</span>
<span class="t" id="t66" style="left:171.69px;top:1086.00px;font-size:28.34px;color:#0f3460;transform:scaleX(0.8876);">Doppler Transcranico (ricerca PFO)</span>
<div class="a" style="left:586.9px;top:1076.8px;width:45.8px;height:45.8px;border-radius:50%;background:#d42648"></div>
<span class="t" id="t67" style="left:599.36px;top:1091.00px;font-size:21.51px;color:#fff;font-weight:bold;-webkit-text-stroke:0.90px #fff;transform:scaleX(1.6989);">N</span>
<span class="t" id="t68" style="left:171.68px;top:1148.00px;font-size:28.34px;color:#0f3460;transform:scaleX(0.8909);">TAC Encefalo</span>
<div class="a" style="left:586.9px;top:1139.4px;width:45.8px;height:45.8px;border-radius:50%;background:#d42648"></div>
<span class="t" id="t69" style="left:599.36px;top:1153.00px;font-size:21.51px;color:#fff;font-weight:bold;-webkit-text-stroke:0.90px #fff;transform:scaleX(1.6989);">N</span>
<span class="t" id="t70" style="left:171.70px;top:1211.00px;font-size:28.34px;color:#0f3460;transform:scaleX(0.8834);">EMG</span>
<div class="a" style="left:586.9px;top:1202.0px;width:45.8px;height:45.8px;border-radius:50%;background:#d42648"></div>
<span class="t" id="t71" style="left:599.36px;top:1216.00px;font-size:21.51px;color:#fff;font-weight:bold;-webkit-text-stroke:0.90px #fff;transform:scaleX(1.6989);">N</span>
<span class="t" id="t72" style="left:171.72px;top:1273.00px;font-size:28.34px;color:#0f3460;transform:scaleX(0.8720);">RMN Encefalo</span>
<div class="a" style="left:586.9px;top:1264.6px;width:45.8px;height:45.8px;border-radius:50%;background:#0c9a2e"></div>
<span class="t" id="t73" style="left:600.57px;top:1275.00px;font-size:26.45px;color:#fff;font-weight:bold;-webkit-text-stroke:0.50px #fff;transform:scaleX(0.9954);">S</span>
<svg style="left:1460px;top:1510px" width="80" height="40" viewBox="1460 1510 80 40">
<defs><filter id="tsh" x="-30%" y="-30%" width="160%" height="180%"><feGaussianBlur stdDeviation="3"/></filter></defs>
<path d="M1474 1522 L1518 1522 L1496 1544 Z" fill="#000" opacity="0.25" filter="url(#tsh)"/>
</svg>
<div class="a" style="left:620px;top:706px;width:934px;height:814px;border:1px solid #5f97cc;border-radius:11px;background:linear-gradient(100deg,#dcebfb 0%,#c9e2f8 22%,#b2d6f4 45%,#9ccbf0 68%,#88c0ec 88%,#80bdea 100%);box-shadow:0 7px 14px rgba(0,0,0,0.34)"></div>
<svg style="left:1460px;top:1510px" width="80" height="40" viewBox="1460 1510 80 40"><path d="M1473.6 1518.6 L1518.4 1518.6 L1496 1541.4 Z" fill="#80bdea"/></svg>
<div class="a" style="left:636px;top:848px;width:732px;height:2px;background:rgba(255,255,255,0.55)"></div>
<div class="a" style="left:636px;top:1036px;width:732px;height:2px;background:rgba(255,255,255,0.55)"></div>
<div class="a" style="left:1380px;top:727px;width:2px;height:780px;background:rgba(255,255,255,0.55)"></div>
<span class="t" id="t74" style="left:637.67px;top:722.00px;font-size:23.11px;color:#0f3460;font-weight:bold;-webkit-text-stroke:1.00px #0f3460;transform:scaleX(1.1048);">Terapia farmacologica visualizza per:</span>
<span class="t" id="t75" style="left:1422.98px;top:724.00px;font-size:21.37px;color:#0f3460;font-weight:bold;-webkit-text-stroke:1.30px #0f3460;transform:scaleX(1.2211);">Stampe</span>
<div class="btn" style="left:636px;top:758px;width:274px;height:70px"></div>
<div class="btn" style="left:940px;top:758px;width:200px;height:70px"></div>
<div class="btn" style="left:1168px;top:758px;width:200px;height:70px"></div>
<span class="t" id="t76" style="left:685.37px;top:780.00px;font-size:28.20px;color:#fff;transform:scaleX(0.9028);">Nome Farmaco</span>
<span class="t" id="t77" style="left:1001.35px;top:780.00px;font-size:28.20px;color:#fff;transform:scaleX(0.9754);">Orario</span>
<span class="t" id="t78" style="left:1237.47px;top:780.00px;font-size:28.20px;color:#fff;transform:scaleX(1.0220);">Note</span>
<div class="btn" style="left:636px;top:866px;width:402px;height:60px"></div>
<div class="btn" style="left:636px;top:946px;width:402px;height:60px"></div>
<span class="t" id="t79" style="left:650.87px;top:884.00px;font-size:27.91px;color:#fff;transform:scaleX(0.9113);">Tutti i Farmaci per Data</span>
<span class="t" id="t80" style="left:650.90px;top:963.00px;font-size:27.91px;color:#fff;transform:scaleX(0.8935);">Tutti i Farmaci per Farmaco</span>
<svg style="left:997px;top:866px" width="24" height="140" viewBox="997 866 24 140" fill="#fff">
<rect x="997.5" y="882" width="6.2" height="29.3"/><rect x="1005.8" y="889.5" width="6.2" height="21.8"/><rect x="1014.2" y="895.3" width="5.9" height="16"/>
<rect x="997.5" y="974.9" width="6.2" height="17"/><rect x="1005.8" y="967.9" width="6.2" height="24"/><rect x="1014.2" y="961.9" width="5.9" height="30"/>
</svg>
<div class="btn" style="left:1092px;top:866px;width:100px;height:140px"></div>
<svg style="left:1092px;top:866px" width="100" height="140" viewBox="1092 866 100 140">
<circle cx="1142" cy="915.85" r="27.55" fill="none" stroke="#237d3e" stroke-width="4.9"/>
<path d="M1141.3 898.9 L1141.3 932.9 L1163.1 915.9 Z" fill="#62bd6c" stroke="#62bd6c" stroke-width="6" stroke-linejoin="round"/>
<path d="M1129.1 898.9 L1129.1 932.9 L1150.9 915.9 Z" fill="#5b8ebe" stroke="#5b8ebe" stroke-width="9.2" stroke-linejoin="round"/>
<path d="M1129.1 898.9 L1129.1 932.9 L1150.9 915.9 Z" fill="#62bd6c" stroke="#62bd6c" stroke-width="6" stroke-linejoin="round"/>
</svg>
<span class="t" id="t81" style="left:1103.27px;top:974.00px;font-size:26.89px;color:#fff;transform:scaleX(1.0092);">Ultimo</span>
<div class="btn" style="left:1228px;top:866px;width:140px;height:140px"></div>
<svg style="left:1228px;top:866px" width="140" height="140" viewBox="1228 866 140 140">
<circle cx="1286.4" cy="894.4" r="5.5" fill="#ec232b"/><circle cx="1309.6" cy="894.4" r="5.5" fill="#ec232b"/>
<circle cx="1286.4" cy="917.5" r="5.5" fill="#ec232b"/><circle cx="1309.6" cy="917.5" r="5.5" fill="#ec232b"/>
<circle cx="1298.08" cy="905.96" r="27.5" fill="none" stroke="#28316d" stroke-width="5"/>
<rect x="1287.2" y="877" width="21.8" height="5" fill="#c8202a"/>
<circle cx="1298" cy="905.9" r="15" fill="#f39a38"/>
<path d="M1280.3 890.2 L1296 906.4 Q1298 908.4 1300 906.4 L1315.7 890.2" fill="none" stroke="#ec232b" stroke-width="3.4" stroke-linejoin="round"/>
<path d="M1289.2 878.4 Q1289.2 876 1291.6 876 L1304.6 876 Q1307 876 1307 878.4 L1307 888.2 L1314.6 888.2 Q1316.8 888.4 1315.3 890.2 L1300 905 Q1298 906.9 1296 905 L1280.7 890.2 Q1279.2 888.4 1281.4 888.2 L1289.2 888.2 Z" fill="#2ba24e"/>
</svg>
<span class="t" id="t82" style="left:1254.08px;top:948.00px;font-size:22.67px;color:#fff;transform:scaleX(0.9710);">Modifica/</span>
<span class="t" id="t83" style="left:1259.64px;top:976.00px;font-size:22.67px;color:#fff;transform:scaleX(0.9253);">Rinnova</span>
<svg style="left:1430px;top:755px" width="80" height="76" viewBox="1430 755 80 76">
<circle cx="1469.6" cy="793.1" r="31.1" fill="#2a7a44"/>
<circle cx="1469.3" cy="792.8" r="31" fill="#1fbd4e"/>
<rect x="1463.2" y="772.5" width="11.9" height="40.8" fill="#fff"/>
</svg>
<span class="t" id="t84" style="left:1414.05px;top:839.00px;font-size:23.26px;color:#fff;transform:scaleX(0.8964);">Intestazione</span>
<div class="btn" style="left:1400px;top:896px;width:140px;height:140px"></div>
<svg style="left:1443px;top:922.2px" width="54" height="50" viewBox="0 0 54 50">
<defs><linearGradient id="pg0" x1="0" y1="0" x2="0" y2="1"><stop offset="0" stop-color="#f7f8f9"/><stop offset="1" stop-color="#c4cbd2"/></linearGradient>
<linearGradient id="pp0" x1="0" y1="0" x2="0" y2="1"><stop offset="0" stop-color="#ffffff"/><stop offset="1" stop-color="#d9dcdf"/></linearGradient></defs>
<rect x="10.5" y="1.6" width="32" height="18" rx="4.5" fill="url(#pp0)" stroke="#66707c" stroke-width="3"/>
<rect x="2.3" y="13.5" width="48.6" height="24" rx="6.5" fill="url(#pg0)" stroke="#66707c" stroke-width="3"/>
<rect x="7" y="27.6" width="39" height="2.6" rx="1.3" fill="#7d8791"/>
<path d="M10.5 29 L42.5 29 L42.5 41.5 Q42.5 46.2 37.8 46.2 L15.2 46.2 Q10.5 46.2 10.5 41.5 Z" fill="url(#pp0)" stroke="#66707c" stroke-width="3"/>
<rect x="12.3" y="27.4" width="28.4" height="3.2" fill="#fdfdfd"/>
</svg>
<div class="btn" style="left:1400px;top:1050px;width:140px;height:140px"></div>
<svg style="left:1443px;top:1074.2px" width="54" height="50" viewBox="0 0 54 50">
<defs><linearGradient id="pg1" x1="0" y1="0" x2="0" y2="1"><stop offset="0" stop-color="#f7f8f9"/><stop offset="1" stop-color="#c4cbd2"/></linearGradient>
<linearGradient id="pp1" x1="0" y1="0" x2="0" y2="1"><stop offset="0" stop-color="#ffffff"/><stop offset="1" stop-color="#d9dcdf"/></linearGradient></defs>
<rect x="10.5" y="1.6" width="32" height="18" rx="4.5" fill="url(#pp1)" stroke="#66707c" stroke-width="3"/>
<rect x="2.3" y="13.5" width="48.6" height="24" rx="6.5" fill="url(#pg1)" stroke="#66707c" stroke-width="3"/>
<rect x="7" y="27.6" width="39" height="2.6" rx="1.3" fill="#7d8791"/>
<path d="M10.5 29 L42.5 29 L42.5 41.5 Q42.5 46.2 37.8 46.2 L15.2 46.2 Q10.5 46.2 10.5 41.5 Z" fill="url(#pp1)" stroke="#66707c" stroke-width="3"/>
<rect x="12.3" y="27.4" width="28.4" height="3.2" fill="#fdfdfd"/>
</svg>
<div class="btn" style="left:1400px;top:1204px;width:140px;height:140px"></div>
<svg style="left:1443px;top:1228.2px" width="54" height="50" viewBox="0 0 54 50">
<defs><linearGradient id="pg2" x1="0" y1="0" x2="0" y2="1"><stop offset="0" stop-color="#f7f8f9"/><stop offset="1" stop-color="#c4cbd2"/></linearGradient>
<linearGradient id="pp2" x1="0" y1="0" x2="0" y2="1"><stop offset="0" stop-color="#ffffff"/><stop offset="1" stop-color="#d9dcdf"/></linearGradient></defs>
<rect x="10.5" y="1.6" width="32" height="18" rx="4.5" fill="url(#pp2)" stroke="#66707c" stroke-width="3"/>
<rect x="2.3" y="13.5" width="48.6" height="24" rx="6.5" fill="url(#pg2)" stroke="#66707c" stroke-width="3"/>
<rect x="7" y="27.6" width="39" height="2.6" rx="1.3" fill="#7d8791"/>
<path d="M10.5 29 L42.5 29 L42.5 41.5 Q42.5 46.2 37.8 46.2 L15.2 46.2 Q10.5 46.2 10.5 41.5 Z" fill="url(#pp2)" stroke="#66707c" stroke-width="3"/>
<rect x="12.3" y="27.4" width="28.4" height="3.2" fill="#fdfdfd"/>
</svg>
<div class="btn" style="left:1400px;top:1358px;width:140px;height:140px"></div>
<svg style="left:1443px;top:1382.2px" width="54" height="50" viewBox="0 0 54 50">
<defs><linearGradient id="pg3" x1="0" y1="0" x2="0" y2="1"><stop offset="0" stop-color="#f7f8f9"/><stop offset="1" stop-color="#c4cbd2"/></linearGradient>
<linearGradient id="pp3" x1="0" y1="0" x2="0" y2="1"><stop offset="0" stop-color="#ffffff"/><stop offset="1" stop-color="#d9dcdf"/></linearGradient></defs>
<rect x="10.5" y="1.6" width="32" height="18" rx="4.5" fill="url(#pp3)" stroke="#66707c" stroke-width="3"/>
<rect x="2.3" y="13.5" width="48.6" height="24" rx="6.5" fill="url(#pg3)" stroke="#66707c" stroke-width="3"/>
<rect x="7" y="27.6" width="39" height="2.6" rx="1.3" fill="#7d8791"/>
<path d="M10.5 29 L42.5 29 L42.5 41.5 Q42.5 46.2 37.8 46.2 L15.2 46.2 Q10.5 46.2 10.5 41.5 Z" fill="url(#pp3)" stroke="#66707c" stroke-width="3"/>
<rect x="12.3" y="27.4" width="28.4" height="3.2" fill="#fdfdfd"/>
</svg>
<span class="t" id="t85" style="left:1435.16px;top:977.00px;font-size:22.97px;color:#fff;transform:scaleX(0.9016);">Stampa</span>
<span class="t" id="t86" style="left:1435.40px;top:1005.00px;font-size:23.11px;color:#fff;transform:scaleX(0.9394);">Terapia</span>
<span class="t" id="t87" style="left:1433.56px;top:1155.00px;font-size:23.69px;color:#fff;transform:scaleX(0.9428);">Tabelle</span>
<span class="t" id="t88" style="left:1415.35px;top:1312.00px;font-size:23.98px;color:#fff;transform:scaleX(0.9353);">Kit Appunti</span>
<span class="t" id="t89" style="left:1439.22px;top:1462.00px;font-size:28.49px;color:#fff;transform:scaleX(0.8658);">Visita</span>
<span class="t" id="t90" style="left:637.63px;top:1074.00px;font-size:22.82px;color:#0f3460;font-weight:bold;-webkit-text-stroke:1.00px #0f3460;transform:scaleX(1.1479);">PreNota fra .. 28 .. giorni</span>
<div class="fld" style="left:636px;top:1114px;width:732px;height:48px"></div>
<div class="rad" style="left:639.7px;top:1120px"></div>
<div class="rad on" style="left:732.0px;top:1120px"></div>
<div class="rad" style="left:825.8px;top:1120px"></div>
<div class="rad" style="left:919.7px;top:1120px"></div>
<div class="rad" style="left:1013.7px;top:1120px"></div>
<span class="t" id="t91" style="left:672.79px;top:1120.00px;font-size:30.52px;color:#0f3460;transform:scaleX(0.8815);">21</span>
<span class="t" id="t92" style="left:764.99px;top:1120.00px;font-size:30.52px;color:#0f3460;transform:scaleX(0.9904);">28</span>
<span class="t" id="t93" style="left:859.89px;top:1120.00px;font-size:30.52px;color:#0f3460;transform:scaleX(0.9871);">30</span>
<span class="t" id="t94" style="left:953.49px;top:1120.00px;font-size:30.52px;color:#0f3460;transform:scaleX(0.9904);">60</span>
<span class="t" id="t95" style="left:1047.12px;top:1120.00px;font-size:30.52px;color:#0f3460;transform:scaleX(1.0254);">Other&#8230;</span>
<div class="fld" style="left:636px;top:1178px;width:732px;height:48px"></div>
<span class="t" id="t96" style="left:817.07px;top:1187.00px;font-size:32.56px;color:#0f3460;transform:scaleX(0.9857);">Mercoled&#236; 1 Luglio 2015</span>
<div class="a" style="left:1334px;top:1180px;width:2px;height:43px;background:#80bdea"></div>
<svg style="left:1340.2px;top:1187.9px" width="21.8" height="19.9" viewBox="0 0 21.8 19.9">
<rect x="0" y="0" width="21.8" height="19.9" fill="#7cb8e6"/>
<rect x="1.75" y="3.9" width="18.3" height="14.25" fill="#fff"/>
<g fill="#7cb8e6"><rect x="3.94" y="6.04" width="2.05" height="1.95"/><rect x="7.86" y="6.04" width="2.05" height="1.95"/><rect x="11.9" y="6.04" width="2.05" height="1.95"/><rect x="15.93" y="6.04" width="2.05" height="1.95"/>
<rect x="3.94" y="10.05" width="2.05" height="1.95"/><rect x="7.86" y="10.05" width="2.05" height="1.95"/><rect x="11.9" y="10.05" width="2.05" height="1.95"/><rect x="15.93" y="10.05" width="2.05" height="1.95"/>
<rect x="3.94" y="13.97" width="2.05" height="1.95"/><rect x="7.86" y="13.97" width="2.05" height="1.95"/><rect x="11.9" y="13.97" width="2.05" height="1.95"/></g>
</svg>
<div class="btn" style="left:636px;top:1246px;width:568px;height:140px"></div>
<span class="t" id="t97" style="left:835.46px;top:1288.00px;font-size:26.60px;color:#fff;transform:scaleX(0.9657);">Crea un nuovo</span>
<span class="t" id="t98" style="left:834.93px;top:1320.00px;font-size:26.60px;color:#fff;transform:scaleX(0.9811);">Appuntamento</span>
<div class="btn" style="left:1228px;top:1246px;width:140px;height:140px"></div>
<svg style="left:1228px;top:1246px" width="140" height="140" viewBox="1228 1246 140 140"><rect x="1270.3" y="1266.1" width="55.35" height="55.6" rx="6.6" fill="none" stroke="#28306c" stroke-width="4.6"/><rect x="1276.7" y="1272.7" width="7.4" height="7.4" rx="1.6" fill="#6199cc"/><rect x="1288.4" y="1272.7" width="7.4" height="7.4" rx="1.6" fill="#6199cc"/><rect x="1299.9" y="1272.7" width="7.4" height="7.4" rx="1.6" fill="#6199cc"/><rect x="1311.9" y="1272.7" width="7.4" height="7.4" rx="1.6" fill="#6199cc"/><rect x="1276.7" y="1284.2" width="7.4" height="7.4" rx="1.6" fill="#6199cc"/><rect x="1288.1" y="1284" width="8" height="8.1" rx="1.6" fill="#ec232b"/><rect x="1299.9" y="1284.2" width="7.4" height="7.4" rx="1.6" fill="#6199cc"/><rect x="1311.9" y="1284.2" width="7.4" height="7.4" rx="1.6" fill="#6199cc"/><rect x="1276.7" y="1296.0" width="7.4" height="7.4" rx="1.6" fill="#6199cc"/><rect x="1288.4" y="1296.0" width="7.4" height="7.4" rx="1.6" fill="#6199cc"/><rect x="1299.9" y="1296.0" width="7.4" height="7.4" rx="1.6" fill="#6199cc"/><rect x="1311.9" y="1296.0" width="7.4" height="7.4" rx="1.6" fill="#6199cc"/><rect x="1276.7" y="1308.0" width="7.4" height="7.4" rx="1.6" fill="#6199cc"/><rect x="1288.4" y="1308.0" width="7.4" height="7.4" rx="1.6" fill="#6199cc"/><rect x="1299.9" y="1308.0" width="7.4" height="7.4" rx="1.6" fill="#6199cc"/><rect x="1311.9" y="1308.0" width="7.4" height="7.4" rx="1.6" fill="#6199cc"/></svg>
<span class="t" style="left:1236.7px;top:1346.31px;font-size:35.3px;font-weight:bold;letter-spacing:-2.6px;text-shadow:1.2px 1.2px 1px rgba(70,70,70,0.45)"><span style="color:#f9a42a">Pre</span><span style="color:#b96dea">No</span><span style="color:#a5826a">ta</span></span>
<div class="a" style="left:678px;top:1542px;width:616px;height:48px;background:#3f6486;border-radius:10px"></div>
<span class="t" id="t99" style="left:699.18px;top:1555.00px;font-size:25.29px;color:#fff;font-weight:bold;-webkit-text-stroke:1.10px #fff;transform:scaleX(1.1655);">Osservazioni</span>
<div class="fld" style="left:678px;top:1594px;width:616px;height:48px"></div>
<span class="t" id="t100" style="left:1356.31px;top:1554.00px;font-size:19.19px;color:#3a3a3a;transform:scaleX(0.8586);">Visualizza</span>
<span class="t" id="t101" style="left:1356.08px;top:1576.00px;font-size:19.19px;color:#3a3a3a;transform:scaleX(1.0555);"><b style="color:#111;-webkit-text-stroke:0.5px #111">P</b>re<b style="color:#111;-webkit-text-stroke:0.5px #111">N</b>ota</span>
<span class="t" id="t102" style="left:1370.76px;top:1598.00px;font-size:19.19px;color:#3a3a3a;transform:scaleX(0.8991);">Stampa</span>
<div class="a" style="left:1446px;top:1542px;width:100px;height:100px;background:#80bdea;border-radius:9px"></div>
<svg style="left:1446px;top:1542px" width="100" height="100" viewBox="1446 1542 100 100" fill="none">
<circle cx="1496.1" cy="1591.9" r="27.4" stroke="#f0e62e" stroke-width="5.2"/>
<path d="M1477.6 1595.6 L1491.4 1608.6 L1519.6 1583.2" stroke="#f0e62e" stroke-width="7.4"/>
</svg>
</body></html>
